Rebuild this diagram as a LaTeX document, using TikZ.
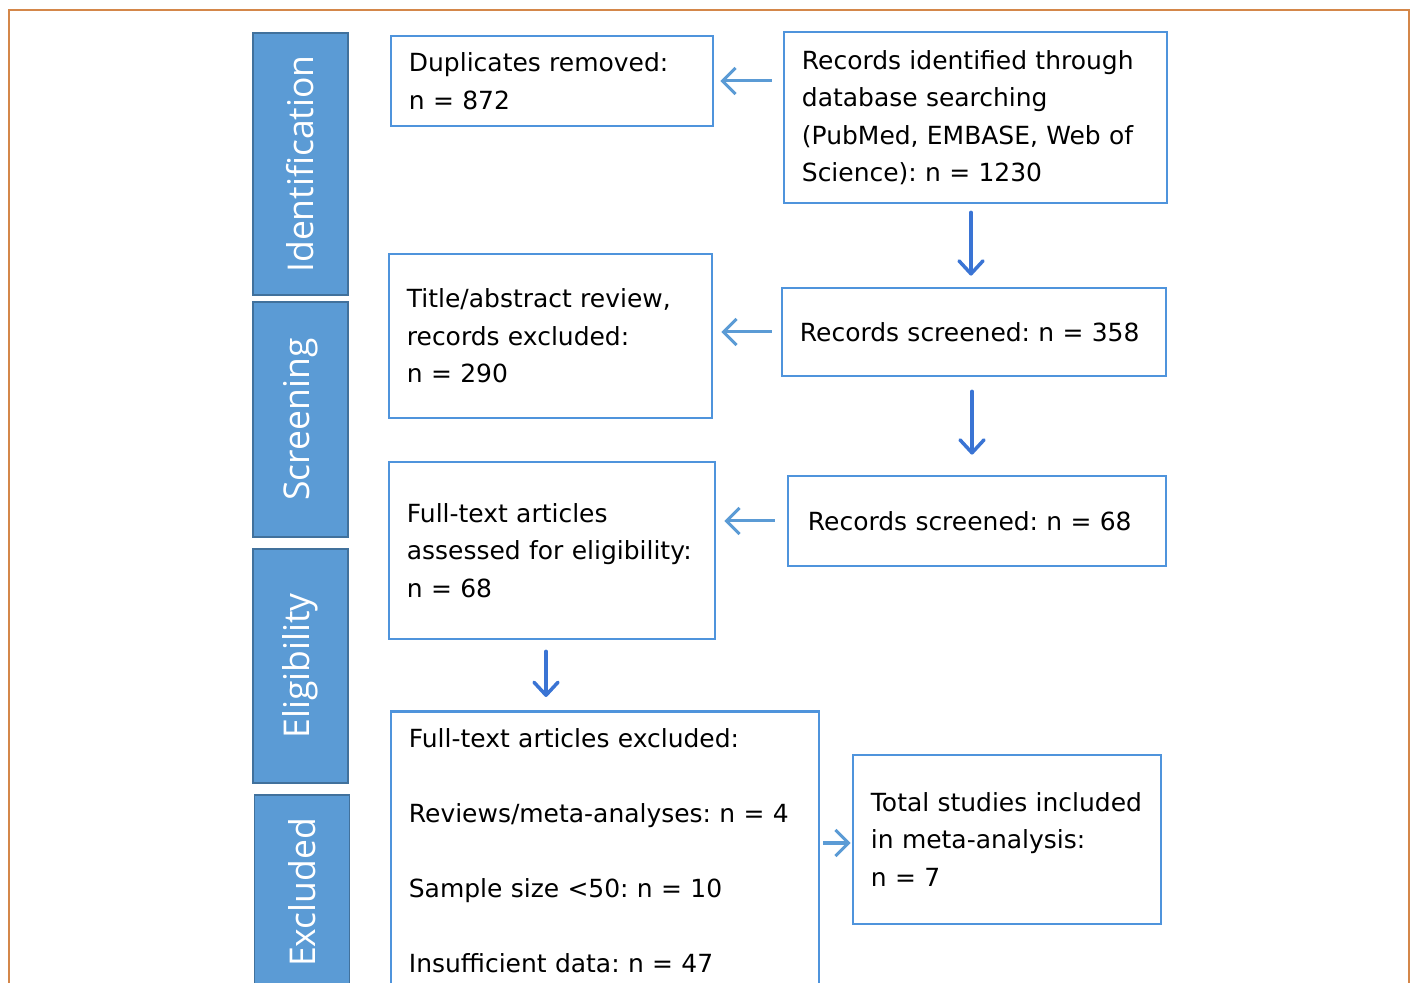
\documentclass[tikz,border=0pt]{standalone}
\usepackage{fontspec}
\setmainfont{DejaVu Sans}
\newfontfamily\barfont{Open Sans}
\usetikzlibrary{arrows.meta}
\definecolor{barfill}{HTML}{5B9BD5}
\definecolor{barline}{HTML}{41719C}
\definecolor{boxline}{HTML}{4F94DC}
\definecolor{arrowblue}{HTML}{3A74D4}
\definecolor{arrowlight}{HTML}{5B9BD5}
\definecolor{frameline}{HTML}{D4874A}
\tikzset{
  phasebar/.style={draw=barline, fill=barfill, line width=0.015cm, rotate=90, text=white,
    font=\barfont\fontsize{10.1}{12}\selectfont, inner sep=0pt, minimum height=0.95cm},
  flowbox/.style={draw=boxline, fill=white, line width=0.027cm, align=left, inner xsep=0.18cm,
    inner ysep=0pt, font=\fontsize{7.1}{10.67}\selectfont},
  flowarrow/.style={draw=arrowblue, line width=0.035cm, line cap=round,
    -{Straight Barb[length=0.13cm,width=0.24cm,round]}},
  sidearrow/.style={draw=arrowlight, line width=0.03cm,
    -{Straight Barb[length=0.13cm,width=0.26cm]}}
}
\begin{document}
\frenchspacing
\begin{tikzpicture}[x=0.01cm,y=-0.01cm]
\useasboundingbox (0,0) rectangle (1415,983);
\draw[frameline, line width=0.012cm] (9,1000) -- (9,10) -- (1409,10) -- (1409,1000);
\node[phasebar, minimum width=2.62cm] (idbar) at (300.5,164) {Identification};
\node[phasebar, minimum width=2.35cm] (scbar) at (300.5,419.5) {Screening};
\node[phasebar, minimum width=2.34cm] (elbar) at (300.5,666) {Eligibility};
\node[phasebar, minimum width=1.95cm] (exbar) at (302,892.5) {Excluded};
\node[flowbox, text width=2.86cm, minimum height=0.9cm] (dup) at (552,81) {Duplicates removed:\\n = 872};
\node[flowbox, text width=3.47cm, minimum height=1.71cm] (ident) at (975.5,117.5) {Records identified through\\database searching\\(PubMed, EMBASE, Web of\\Science): n = 1230};
\node[flowbox, text width=2.87cm, minimum height=1.64cm] (title) at (550.5,336) {Title/abstract review,\\records excluded:\\n = 290};
\node[flowbox, text width=3.48cm, minimum height=0.88cm] (scr1) at (974,332) {Records screened: n = 358};
\node[flowbox, text width=2.90cm, minimum height=1.77cm] (full) at (552,550.5) {Full-text articles\\assessed for eligibility:\\n = 68};
\node[flowbox, text width=3.38cm, inner xsep=0.2cm, minimum height=0.9cm] (scr2) at (977,521) {Records screened: n = 68};
\node[flowbox, text width=3.92cm, inner ysep=0.17cm, anchor=north] (excl) at (605,710) {Full-text articles excluded:\\[10.67pt]Reviews/meta-analyses: n = 4\\[10.67pt]Sample size <50: n = 10\\[10.67pt]Insufficient data: n = 47};
\node[flowbox, text width=2.72cm, minimum height=1.69cm] (total) at (1007,839.5) {Total studies included\\in meta-analysis:\\n = 7};
\draw[sidearrow, shorten <=0.11cm, shorten >=0.06cm] (ident.west |- dup.east) -- (dup.east);
\draw[sidearrow, shorten <=0.09cm, shorten >=0.08cm] (scr1.west) -- (scr1.west -| title.east);
\draw[sidearrow, shorten <=0.12cm, shorten >=0.08cm] (scr2.west) -- (scr2.west -| full.east);
\draw[flowarrow, shorten <=0.08cm, shorten >=0.11cm] ([xshift=-0.045cm]ident.south) -- ([xshift=-0.045cm]ident.south |- scr1.north);
\draw[flowarrow, shorten <=0.14cm, shorten >=0.2cm] ([xshift=-0.02cm]scr1.south) -- ([xshift=-0.02cm]scr1.south |- scr2.north);
\draw[flowarrow, shorten <=0.11cm, shorten >=0.13cm] ([xshift=-0.06cm]full.south) -- ([xshift=-0.06cm]full.south |- excl.north);
\draw[sidearrow, shorten <=0.03cm, shorten >=0.01cm] ([yshift=-0.035cm]excl.east |- total.west) -- ([yshift=-0.035cm]total.west);
\end{tikzpicture}
\end{document}
